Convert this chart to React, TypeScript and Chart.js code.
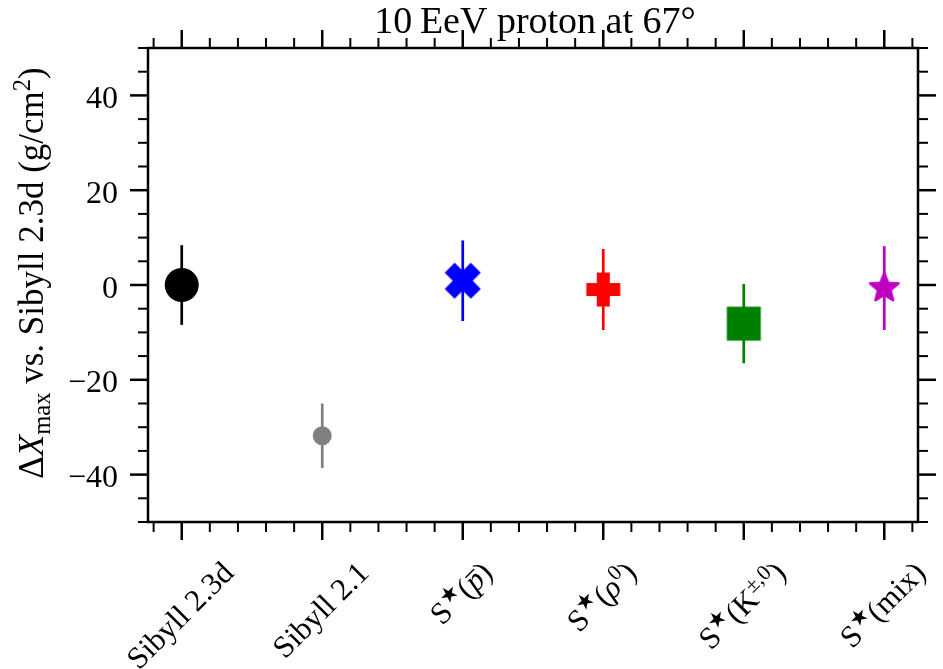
import React, { useEffect, useRef } from 'react';
import { Chart, registerables } from 'chart.js';

Chart.register(...registerables);

// ---------- data ----------
const categories = ['Sibyll 2.3d', 'Sibyll 2.1', 'S★(p̄)', 'S★(ρ⁰)', 'S★(K±,0)', 'S★(mix)'];
const deltaXmax = [0, -31.8, 0.9, -0.95, -8.15, -0.65];
const errors = [8.4, 6.8, 8.5, 8.55, 8.35, 8.85];
const colors = ['#000000', '#808080', '#0000ff', '#ff0000', '#008000', '#bf00bf'];
const markers = ['circle', 'circle', 'X', 'P', 'square', 'star'];
const markerSizes = [17, 9.5, 32.5, 31.5, 31.5, 15];
const yMajorTicks = [-40, -20, 0, 20, 40];
const yTickLabels = ['−40', '−20', '0', '20', '40'];
const titleText = '10\u2009EeV proton at 67°';

type Seg = { t: string; sup?: boolean; sub?: boolean; it?: boolean; bar?: boolean };

// rich (math-like) versions of the category labels
const categorySegments: Seg[][] = [
  [{ t: 'Sibyll 2.3d' }],
  [{ t: 'Sibyll 2.1' }],
  [{ t: 'S' }, { t: '★', sup: true }, { t: '(' }, { t: 'p', it: true, bar: true }, { t: ')' }],
  [{ t: 'S' }, { t: '★', sup: true }, { t: '(' }, { t: 'ρ', it: true }, { t: '0', sup: true }, { t: ')' }],
  [{ t: 'S' }, { t: '★', sup: true }, { t: '(K' }, { t: '±,0', sup: true }, { t: ')' }],
  [{ t: 'S' }, { t: '★', sup: true }, { t: '(mix)' }],
];
const yTitleSegments: Seg[] = [
  { t: 'Δ' },
  { t: 'X', it: true },
  { t: 'max', sub: true },
  { t: ' vs. Sibyll 2.3d (g/cm' },
  { t: '2', sup: true },
  { t: ')' },
];

const FONT = '"Liberation Serif", "DejaVu Serif", serif';

function segFont(s: Seg, size: number) {
  const sz = s.sup || s.sub ? size * 0.7 : size;
  return `${s.it ? 'italic ' : ''}${sz}px ${FONT}`;
}
function measureRich(ctx: CanvasRenderingContext2D, segs: Seg[], size: number) {
  let w = 0;
  for (const s of segs) {
    ctx.font = segFont(s, size);
    w += ctx.measureText(s.t).width;
  }
  return w;
}
function drawRich(ctx: CanvasRenderingContext2D, segs: Seg[], size: number, x0: number, baseline: number) {
  let x = x0;
  ctx.textAlign = 'left';
  ctx.textBaseline = 'alphabetic';
  for (const s of segs) {
    ctx.font = segFont(s, size);
    const dy = s.sup ? -0.36 * size : s.sub ? 0.2 * size : 0;
    ctx.fillText(s.t, x, baseline + dy);
    const w = ctx.measureText(s.t).width;
    if (s.bar) {
      ctx.fillRect(x + w * 0.2, baseline - 0.6 * size, w * 0.8, Math.max(1.2, size * 0.045));
    }
    x += w;
  }
}

function makeMarker(kind: string, color: string, size: number): HTMLCanvasElement {
  const pad = 6;
  const dim = Math.ceil(size * 2 + pad * 2);
  const c = document.createElement('canvas');
  c.width = dim;
  c.height = dim;
  const g = c.getContext('2d')!;
  const cx = dim / 2;
  const cy = dim / 2;
  g.fillStyle = color;
  g.strokeStyle = color;
  g.lineWidth = 2.5;
  g.lineJoin = kind === 'star' ? 'round' : 'miter';
  g.beginPath();
  if (kind === 'X') {
    const v = [[-1, -2], [0, -1], [1, -2], [2, -1], [1, 0], [2, 1], [1, 2], [0, 1], [-1, 2], [-2, 1], [-1, 0], [-2, -1]];
    v.forEach(([a, b], i) => {
      const px = cx + (a / 4) * size;
      const py = cy + (b / 4) * size;
      if (i === 0) g.moveTo(px, py);
      else g.lineTo(px, py);
    });
  } else if (kind === 'P') {
    const v = [[-1, -3], [1, -3], [1, -1], [3, -1], [3, 1], [1, 1], [1, 3], [-1, 3], [-1, 1], [-3, 1], [-3, -1], [-1, -1]];
    v.forEach(([a, b], i) => {
      const px = cx + (a / 6) * size;
      const py = cy + (b / 6) * size;
      if (i === 0) g.moveTo(px, py);
      else g.lineTo(px, py);
    });
  } else if (kind === 'square') {
    g.rect(cx - size / 2, cy - size / 2, size, size);
  } else if (kind === 'star') {
    const R = size;
    const r = R * 0.381966 * 1.15;
    for (let i = 0; i < 10; i++) {
      const ang = -Math.PI / 2 + (i * Math.PI) / 5;
      const rad = i % 2 === 0 ? R : r;
      const px = cx + rad * Math.cos(ang);
      const py = cy + rad * Math.sin(ang);
      if (i === 0) g.moveTo(px, py);
      else g.lineTo(px, py);
    }
  }
  g.closePath();
  g.fill();
  g.stroke();
  return c;
}

const decorPlugin = {
  id: 'decor',
  beforeDatasetsDraw(chart: any) {
    const { ctx } = chart;
    const x = chart.scales.x;
    const y = chart.scales.y;
    ctx.save();
    ctx.lineWidth = 2.7;
    deltaXmax.forEach((v, i) => {
      const px = x.getPixelForValue(i);
      ctx.strokeStyle = colors[i];
      ctx.beginPath();
      ctx.moveTo(px, y.getPixelForValue(v + errors[i]));
      ctx.lineTo(px, y.getPixelForValue(v - errors[i]));
      ctx.stroke();
    });
    ctx.restore();
  },
  afterDraw(chart: any) {
    const { ctx, chartArea } = chart;
    const x = chart.scales.x;
    const y = chart.scales.y;
    const { left, right, top, bottom } = chartArea;
    ctx.save();
    ctx.strokeStyle = '#000';
    ctx.fillStyle = '#000';
    ctx.lineCap = 'butt';

    // ticks
    const majorLen = 18;
    const minorLen = 10;
    const tick = (x1: number, y1: number, x2: number, y2: number, w: number) => {
      ctx.lineWidth = w;
      ctx.beginPath();
      ctx.moveTo(x1, y1);
      ctx.lineTo(x2, y2);
      ctx.stroke();
    };
    // x ticks: majors at categories, minors every 0.2
    for (let k = -1; k <= 26; k++) {
      const v = k / 5;
      if (v < x.min || v > x.max) continue;
      const major = k % 5 === 0;
      const px = x.getPixelForValue(v);
      const len = major ? majorLen : minorLen;
      const w = major ? 2.5 : 2;
      tick(px, bottom, px, bottom + len, w);
      tick(px, top, px, top - len, w);
    }
    // y ticks
    for (let v = -50; v <= 50; v += 5) {
      const major = yMajorTicks.includes(v);
      const py = y.getPixelForValue(v);
      const len = major ? majorLen : minorLen;
      const w = major ? 2.5 : 2;
      tick(left, py, left - len, py, w);
      tick(right, py, right + len, py, w);
    }

    // frame
    ctx.lineWidth = 2.5;
    ctx.strokeRect(left, top, right - left, bottom - top);

    // y tick labels
    ctx.font = `32px ${FONT}`;
    ctx.textAlign = 'right';
    ctx.textBaseline = 'alphabetic';
    yMajorTicks.forEach((v, i) => {
      const py = y.getPixelForValue(v);
      ctx.fillText(yTickLabels[i], left - 30, py + 12.5);
    });

    // x tick labels (rotated 45°, bbox centred on the tick)
    const xs = 31;
    categorySegments.forEach((segs, i) => {
      const px = x.getPixelForValue(i);
      const L = measureRich(ctx, segs, xs);
      const h = xs * 1.0;
      const half = (L + h) / (2 * Math.SQRT2);
      const cy = bottom + 36 + half;
      ctx.save();
      ctx.translate(px, cy);
      ctx.rotate(-Math.PI / 4);
      drawRich(ctx, segs, xs, -L / 2, 0.25 * xs);
      ctx.restore();
    });

    // y title
    const ys = 35;
    const Ly = measureRich(ctx, yTitleSegments, ys);
    ctx.save();
    ctx.translate(43, 273);
    ctx.rotate(-Math.PI / 2);
    drawRich(ctx, yTitleSegments, ys, -Ly / 2, 0);
    ctx.restore();

    // title
    ctx.font = `38px ${FONT}`;
    ctx.textAlign = 'center';
    ctx.textBaseline = 'alphabetic';
    ctx.fillText(titleText, 535, 33);

    ctx.restore();
  },
};

export default function App() {
  const ref = useRef<HTMLCanvasElement>(null);
  useEffect(() => {
    const styles = markers.map((m, i) =>
      m === 'circle' ? 'circle' : makeMarker(m, colors[i], markerSizes[i])
    );
    const radii = markers.map((m, i) => (m === 'circle' ? markerSizes[i] : 18));
    const chart = new Chart(ref.current!, {
      type: 'scatter',
      data: {
        labels: categories,
        datasets: [
          {
            label: 'ΔXmax',
            data: deltaXmax.map((v, i) => ({ x: i, y: v })),
            pointStyle: styles as any,
            pointRadius: radii,
            backgroundColor: colors,
            borderColor: colors,
            borderWidth: 0,
            showLine: false,
          } as any,
        ],
      },
      options: {
        animation: false,
        responsive: false,
        layout: { padding: { left: 148, right: 25, top: 48, bottom: 147 } },
        scales: {
          x: { type: 'linear', min: -0.24, max: 5.24, display: false },
          y: { type: 'linear', min: -50, max: 50, display: false },
        },
        plugins: {
          legend: { display: false },
          tooltip: { enabled: false },
        },
      },
      plugins: [decorPlugin],
    });
    return () => chart.destroy();
  }, []);
  return (
    <div style={{ position: 'fixed', left: 0, top: 0, width: 943, height: 669, background: '#fff' }}>
      <canvas ref={ref} width={943} height={669} style={{ width: 943, height: 669, display: 'block' }} />
    </div>
  );
}
